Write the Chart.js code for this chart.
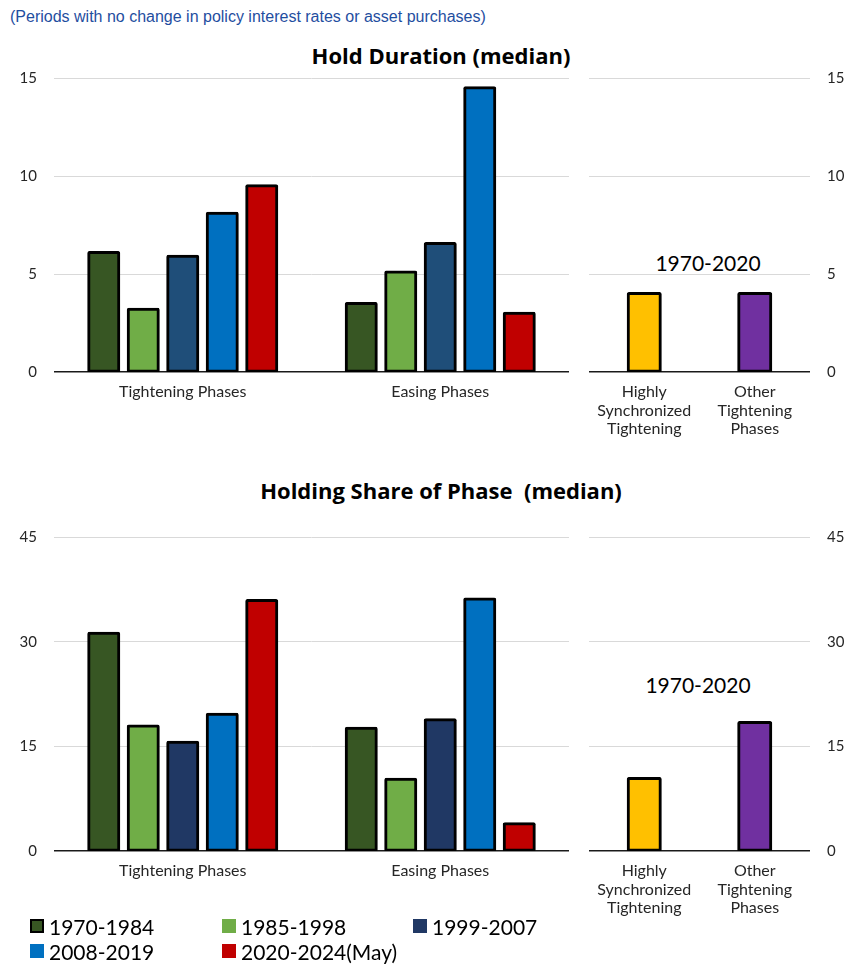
<!DOCTYPE html>
<html>
<head>
<meta charset="utf-8">
<script src="https://cdn.jsdelivr.net/npm/chart.js@4.4.1/dist/chart.umd.min.js"></script>
<style>
  html, body { margin: 0; padding: 0; background: #ffffff; }
  body { width: 851px; height: 964px; position: relative; overflow: hidden; }
  canvas { position: absolute; }
  .txt { position: absolute; white-space: nowrap; }
  #subtitle { left: 10px; top: 8px; font: 16px "Liberation Sans", Arial, sans-serif; color: #1F4E9F; }
  .title { left: 0; width: 882px; text-align: center; font: bold 22px "Open Sans", sans-serif; color: #000; line-height: 28px; }
  .period { font: 21px Lato, sans-serif; color: #000; line-height: 26px; text-align: center; width: 140px; }
  .leg { position: absolute; font: 21px Lato, sans-serif; color: #000; line-height: 25px; white-space: nowrap; }
  .leg .sq { position: absolute; left: 0; top: 5px; width: 14px; height: 14px; box-sizing: border-box; }
  .leg .lab { position: absolute; left: 19px; top: 0; }
</style>
</head>
<body>
<div id="subtitle" class="txt">(Periods with no change in policy interest rates or asset purchases)</div>
<div class="txt title" style="top:41px;">Hold Duration (median)</div>
<div class="txt title" style="top:476px;">Holding Share of Phase&nbsp; (median)</div>
<div class="txt period" style="left:638px; top:250px;">1970-2020</div>
<div class="txt period" style="left:628px; top:672px;">1970-2020</div>

<canvas id="c1" width="575" height="388" style="left:0px; top:52px;"></canvas>
<canvas id="c2" width="276" height="388" style="left:575px; top:52px;"></canvas>
<canvas id="c3" width="575" height="414" style="left:0px; top:511px;"></canvas>
<canvas id="c4" width="276" height="414" style="left:575px; top:511px;"></canvas>
<div id="legend"></div>

<script>
// ---------- DATA ----------
const periods = ['1970-1984', '1985-1998', '1999-2007', '2008-2019', '2020-2024(May)'];
const phaseCategories = ['Tightening Phases', 'Easing Phases'];
const syncCategories = [['Highly', 'Synchronized', 'Tightening'], ['Other', 'Tightening', 'Phases']];
const periodLabel = '1970-2020';

// Hold duration (median), [Tightening, Easing]
const holdDuration_1970_1984 = [6.1, 3.5];
const holdDuration_1985_1998 = [3.2, 5.1];
const holdDuration_1999_2007 = [5.9, 6.55];
const holdDuration_2008_2019 = [8.1, 14.5];
const holdDuration_2020_2024 = [9.5, 3.0];
const holdDurationSync = [4.0, 4.0];

// Holding share of phase (median), [Tightening, Easing]
const holdShare_1970_1984 = [31.2, 17.6];
const holdShare_1985_1998 = [17.9, 10.3];
const holdShare_1999_2007 = [15.6, 18.8];
const holdShare_2008_2019 = [19.6, 36.1];
const holdShare_2020_2024 = [35.9, 3.9];
const holdShareSync = [10.4, 18.4];

const topTicks = { max: 15, step: 5 };
const bottomTicks = { max: 45, step: 15 };

// ---------- STYLE ----------
const topColors = ['#375623', '#70AD47', '#1F4E79', '#0070C0', '#C00000'];
const bottomColors = ['#375623', '#70AD47', '#203864', '#0070C0', '#C00000'];
const syncColors = ['#FFC000', '#7030A0'];
const legendColors = ['#375623', '#70AD47', '#203864', '#0070C0', '#C00000'];
const yTickFont = { family: 'Lato', size: 15 };
const xTickFont = { family: 'Lato', size: 16, lineHeight: 1.15 };
const tickColor = '#262626';

Chart.defaults.font.family = 'Lato';
Chart.defaults.animation = false;

function gridColor(ctx) {
  return ctx.tick && ctx.tick.value === 0 ? '#1a1a1a' : '#d9d9d9';
}
function gridWidth(ctx) {
  return ctx.tick && ctx.tick.value === 0 ? 1.5 : 1;
}

function mainChart(id, seriesArr, colors, tk, xHeight) {
  return new Chart(document.getElementById(id), {
    type: 'bar',
    data: {
      labels: phaseCategories,
      datasets: periods.map((p, i) => ({
        label: p,
        data: seriesArr[i],
        backgroundColor: colors[i],
        borderColor: '#000',
        borderWidth: 3,
        borderSkipped: false,
        borderRadius: 2,
        inflateAmount: 1.5,
        categoryPercentage: 0.767,
        barPercentage: 0.76
      }))
    },
    options: {
      responsive: false,
      devicePixelRatio: 1,
      layout: { padding: { top: 0, right: 6, left: 0, bottom: 0 } },
      plugins: { legend: { display: false }, tooltip: { enabled: false } },
      scales: {
        x: {
          grid: { display: false, drawTicks: false },
          border: { display: false },
          ticks: { font: xTickFont, color: tickColor, padding: 11, maxRotation: 0 },
          afterFit: (s) => { s.height = xHeight; }
        },
        y: {
          min: 0, max: tk.max,
          grid: { color: gridColor, lineWidth: gridWidth, drawTicks: false },
          border: { display: false },
          ticks: { stepSize: tk.step, font: yTickFont, color: tickColor, padding: 17 },
          afterFit: (s) => { s.width = 54; }
        }
      }
    }
  });
}

function syncChart(id, values, tk, xHeight) {
  return new Chart(document.getElementById(id), {
    type: 'bar',
    data: {
      labels: syncCategories,
      datasets: [{
        label: periodLabel,
        data: values,
        backgroundColor: syncColors,
        borderColor: '#000',
        borderWidth: 3,
        borderSkipped: false,
        borderRadius: 2,
        inflateAmount: 1.5,
        categoryPercentage: 1.0,
        barPercentage: 0.29
      }]
    },
    options: {
      responsive: false,
      devicePixelRatio: 1,
      layout: { padding: { top: 0, right: 0, left: 14, bottom: 0 } },
      plugins: { legend: { display: false }, tooltip: { enabled: false } },
      scales: {
        x: {
          grid: { display: false, drawTicks: false },
          border: { display: false },
          ticks: { font: xTickFont, color: tickColor, padding: 11, maxRotation: 0 },
          afterFit: (s) => { s.height = xHeight; }
        },
        y: {
          position: 'right',
          min: 0, max: tk.max,
          grid: { color: gridColor, lineWidth: gridWidth, drawTicks: false },
          border: { display: false },
          ticks: { stepSize: tk.step, font: yTickFont, color: tickColor, padding: 17 },
          afterFit: (s) => { s.width = 41; }
        }
      }
    }
  });
}

mainChart('c1', [holdDuration_1970_1984, holdDuration_1985_1998, holdDuration_1999_2007, holdDuration_2008_2019, holdDuration_2020_2024], topColors, topTicks, 68);
syncChart('c2', holdDurationSync, topTicks, 68);
mainChart('c3', [holdShare_1970_1984, holdShare_1985_1998, holdShare_1999_2007, holdShare_2008_2019, holdShare_2020_2024], bottomColors, bottomTicks, 74);
syncChart('c4', holdShareSync, bottomTicks, 74);

// ---------- LEGEND ----------
const legendCols = [30, 222, 413];
const legendRows = [914, 939];
const legend = document.getElementById('legend');
periods.forEach((p, i) => {
  const d = document.createElement('div');
  d.className = 'leg';
  d.style.left = legendCols[i % 3] + 'px';
  d.style.top = legendRows[Math.floor(i / 3)] + 'px';
  const sq = document.createElement('span');
  sq.className = 'sq';
  sq.style.background = legendColors[i];
  if (i === 0) sq.style.border = '2px solid #000';
  const lab = document.createElement('span');
  lab.className = 'lab';
  lab.textContent = p;
  d.appendChild(sq);
  d.appendChild(lab);
  legend.appendChild(d);
});
</script>
</body>
</html>
